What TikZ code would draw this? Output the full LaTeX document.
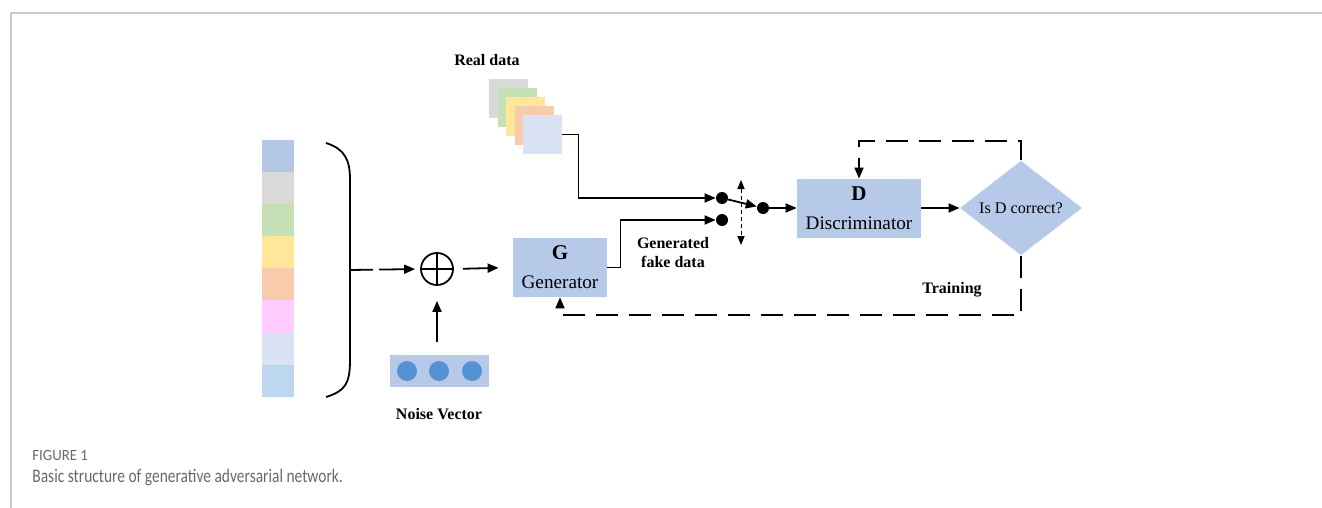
\documentclass[tikz,border=0pt]{standalone}
\usepackage{fontspec}
\setmainfont{Liberation Serif}
\newfontfamily\capfont{Carlito}
\usetikzlibrary{arrows.meta,shapes.geometric,positioning}

\definecolor{boxblue}{RGB}{183,201,232}
\definecolor{dotblue}{RGB}{84,146,212}
\definecolor{cgray}{RGB}{217,217,217}
\definecolor{cgreen}{RGB}{197,224,180}
\definecolor{cyellow}{RGB}{255,230,153}
\definecolor{corange}{RGB}{248,203,173}
\definecolor{cpink}{RGB}{255,204,255}
\definecolor{clav}{RGB}{218,227,243}
\definecolor{cblue}{RGB}{189,215,238}
\definecolor{cblue2}{RGB}{180,199,231}
\definecolor{framegray}{RGB}{204,204,204}
\definecolor{capgray}{RGB}{105,105,105}

\tikzset{
    box/.style={fill=boxblue, inner sep=0pt, align=center, minimum height=29.5pt,
        font=\fontsize{9.6}{14.5}\selectfont},
    flow/.style={line width=0.9pt, -{Triangle[length=5.5pt,width=4.5pt]}},
    fb/.style={flow, dash pattern=on 11pt off 5.5pt},
    dot/.style={circle, fill=black, inner sep=0pt, minimum size=6pt},
    cell/.style={inner sep=0pt, minimum width=16pt, minimum height=16.05pt},
    sq/.style={inner sep=0pt, minimum size=19.5pt},
    lbl/.style={font=\bfseries\fontsize{8}{9.5}\selectfont, align=center}
}

\begin{document}
\begin{tikzpicture}[x=0.5pt, y=-0.5pt]
    \useasboundingbox (0,0) rectangle (1322,508);

    % Frame
    \draw[framegray, line width=1pt] (11,508) -- (11,13) -- (1322,13);

    % Latent code bar
    \foreach \c [count=\i from 0] in {cblue2,cgray,cgreen,cyellow,corange,cpink,clav,cblue} {
        \node[cell, fill=\c] (bar\i) at (278,{156+32.1*\i}) {};
    }

    % Bracket
    \draw[line width=0.9pt] (326,143) .. controls (345,149) and (350,160) .. (350,180)
        -- (350,360) .. controls (350,384) and (345,391) .. (326,397);
    \coordinate (brk) at (350,270);

    % Sum and noise
    \node[circle, draw, line width=0.9pt, minimum size=16pt, inner sep=0pt] (sum) at (437,269) {};
    \draw[line width=0.9pt] (sum.north) -- (sum.south) (sum.west) -- (sum.east);
    \node[fill=boxblue, minimum width=49.5pt, minimum height=16pt, inner sep=0pt] (noise) at (439.5,371) {};
    \foreach \x in {407,439,472} {
        \fill[dotblue] (\x,371) circle (5pt);
    }
    \node[lbl] (noiselbl) at (439,414) {Noise Vector};

    % Generator
    \node[box, minimum width=47pt] (gen) at (560,267.5) {{\bfseries\fontsize{10.5}{12}\selectfont G}\\Generator};

    % Real data stack
    \foreach \c [count=\i from 0] in {cgray,cgreen,cyellow,corange,clav} {
        \node[sq, fill=\c] (real\i) at ({508.5+8.5*\i},{98.5+9*\i}) {};
    }
    \node[lbl] (reallbl) at (487,60) {Real data};

    % Switch
    \node[dot] (dotA) at (722,198) {};
    \node[dot] (dotB) at (722,220) {};
    \node[dot] (dotC) at (763,208) {};
    \coordinate (swtop) at (741,180);
    \coordinate (swbot) at (741,245);
    \draw[line width=0.5pt, dash pattern=on 2pt off 1.5pt, {Triangle[length=4.5pt,width=3.6pt]}-{Triangle[length=4.5pt,width=3.6pt]}] (swtop) -- (swbot);

    % Discriminator
    \node[box, minimum width=62pt] (disc) at (859,208.5) {{\bfseries\fontsize{10.5}{12}\selectfont D}\\Discriminator};
    \node[diamond, fill=boxblue, inner sep=0pt, minimum width=61pt, minimum height=45.5pt,
        font=\fontsize{8.1}{10}\selectfont] (check) at (1021,208) {Is D correct?};

    % Labels
    \node[lbl] (genlbl) at (673,252.5) {Generated\\fake data};
    \node[lbl] (trainlbl) at (952,290) {Training};

    % Connections
    \draw[flow, dash pattern=on 11.5pt off 3pt on 40pt off 0pt, shorten >=2.5pt] (brk) -- (sum.west);
    \draw[flow, shorten <=4.5pt, shorten >=7pt] (sum.east) -- (gen.west);
    \draw[flow, shorten <=6.5pt, shorten >=7.5pt] (noise.north -| sum) -- (sum.south);
    \draw[flow] (gen.east) -- ++(13,0) |- (dotB);
    \draw[flow] (real4.east) -- ++(16,0) |- (dotA);
    \draw[flow] (dotA) -- (dotC);
    \draw[flow] (dotC) -- (dotC -| disc.west);
    \draw[flow] (disc.east |- check) -- (check.west);
    \draw[fb] (check.north) -- ++(0,-19) -| (disc.north);
    \draw[fb] (check.south) -- ++(0,59) -| (gen.south);

    % Caption
    \node[anchor=base west, font=\capfont\fontsize{7.8}{9}\selectfont, text=capgray, inner sep=0pt] (fig) at (32,460) {\scalebox{0.95}[1]{FIGURE 1}};
    \node[anchor=base west, font=\capfont\fontsize{9.6}{11}\selectfont, text=capgray, inner sep=0pt] (cap) at (32,482) {\scalebox{0.805}[1]{Basic structure of generative adversarial network.}};
\end{tikzpicture}
\end{document}
